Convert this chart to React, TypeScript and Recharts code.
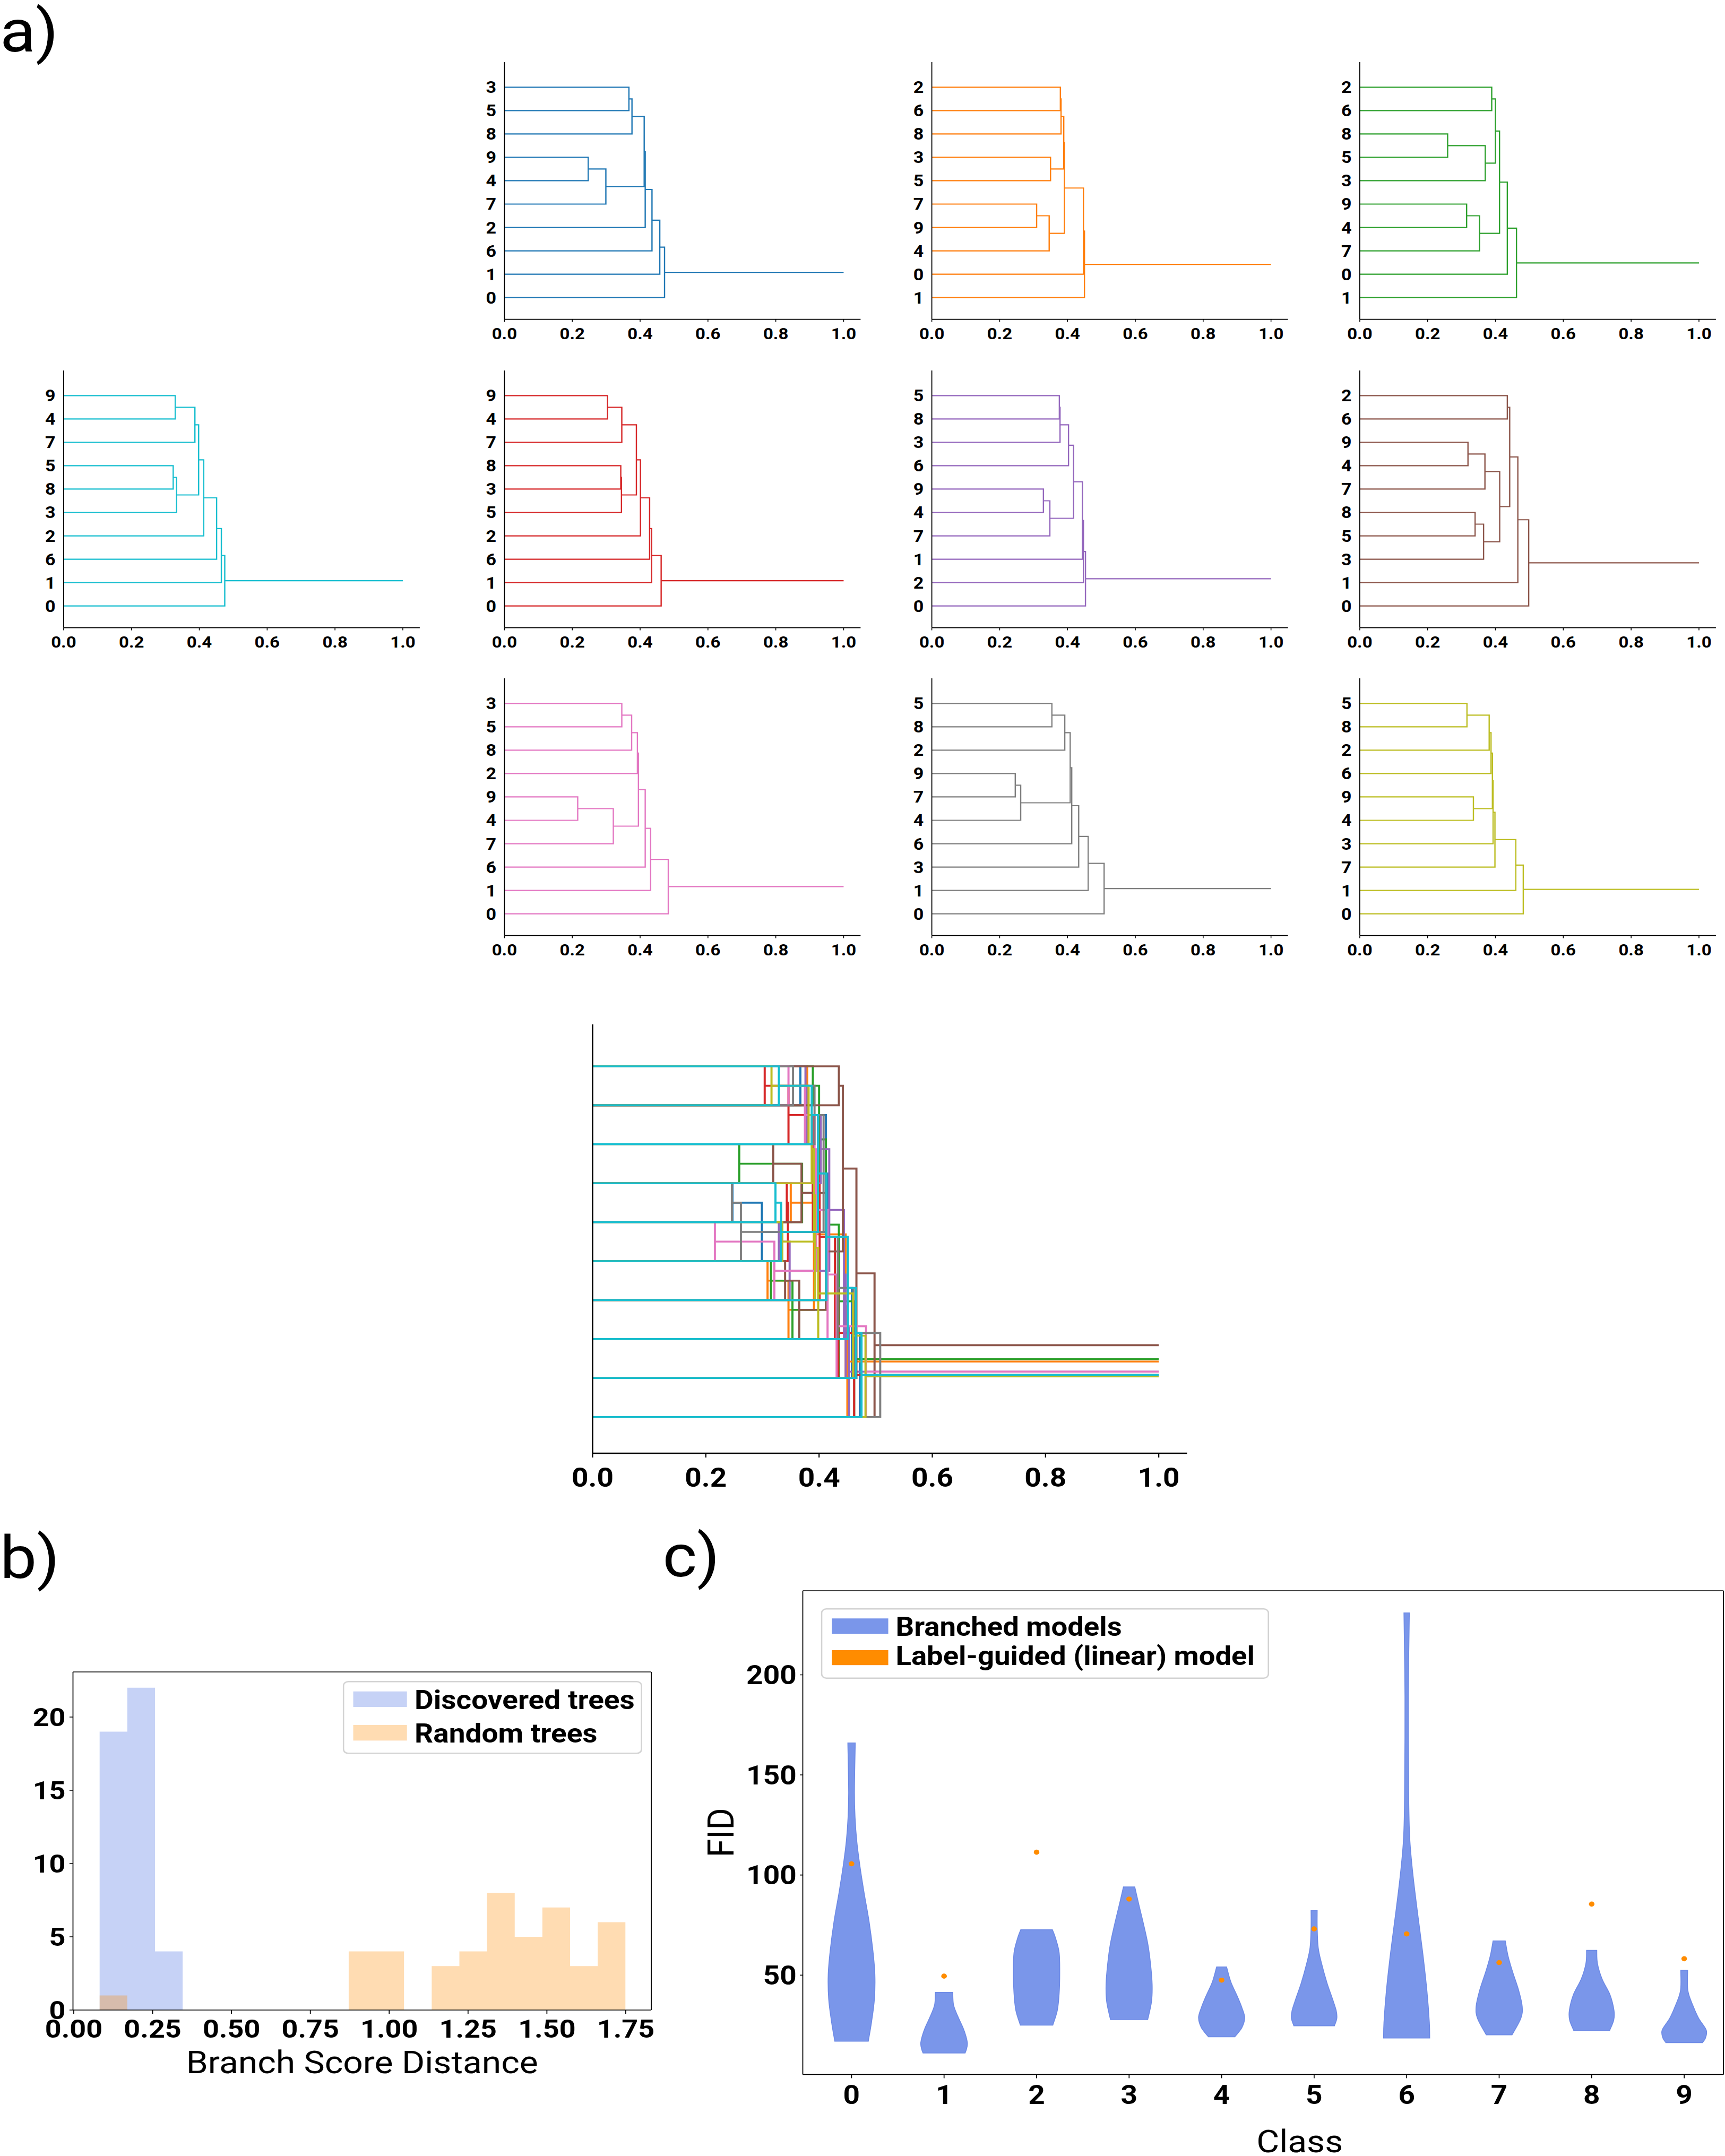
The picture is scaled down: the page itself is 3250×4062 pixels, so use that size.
import React from 'react';
import {
  ComposedChart, Line, Area, Scatter, XAxis, YAxis, ReferenceLine, Legend, Label,
} from 'recharts';

// the reference picture is stretched horizontally, so draw narrower and scale x
const SX = 1.1;
const PAGE_W = 3250 / SX;
const PAGE_H = 4062;

// ---------- a) dendrograms: leaf labels (top to bottom) and merges [a, b, height]
// ids 0-9 are leaf slots, 10+ are merged clusters (scipy style)
const blueLeaves = ['3', '5', '8', '9', '4', '7', '2', '6', '1', '0'];
const blueMerges = [[0, 1, 0.367], [10, 2, 0.376], [3, 4, 0.247], [12, 5, 0.299], [11, 13, 0.412], [14, 6, 0.415], [15, 7, 0.435], [16, 8, 0.458], [17, 9, 0.472]];

const orangeLeaves = ['2', '6', '8', '3', '5', '7', '9', '4', '0', '1'];
const orangeMerges = [[0, 1, 0.379], [10, 2, 0.381], [3, 4, 0.350], [11, 12, 0.389], [5, 6, 0.309], [14, 7, 0.346], [13, 15, 0.391], [16, 8, 0.447], [17, 9, 0.450]];

const greenLeaves = ['2', '6', '8', '5', '3', '9', '4', '7', '0', '1'];
const greenMerges = [[0, 1, 0.389], [2, 3, 0.259], [11, 4, 0.370], [10, 12, 0.400], [5, 6, 0.315], [14, 7, 0.353], [13, 15, 0.412], [16, 8, 0.435], [17, 9, 0.462]];

const redLeaves = ['9', '4', '7', '8', '3', '5', '2', '6', '1', '0'];
const redMerges = [[0, 1, 0.304], [10, 2, 0.346], [3, 4, 0.343], [12, 5, 0.345], [11, 13, 0.389], [14, 6, 0.401], [15, 7, 0.428], [16, 8, 0.434], [17, 9, 0.462]];

const purpleLeaves = ['5', '8', '3', '6', '9', '4', '7', '1', '2', '0'];
const purpleMerges = [[0, 1, 0.376], [10, 2, 0.378], [11, 3, 0.403], [4, 5, 0.329], [13, 6, 0.348], [12, 14, 0.418], [15, 7, 0.444], [16, 8, 0.447], [17, 9, 0.453]];

const brownLeaves = ['2', '6', '9', '4', '7', '8', '5', '3', '1', '0'];
const brownMerges = [[0, 1, 0.435], [2, 3, 0.319], [11, 4, 0.369], [5, 6, 0.340], [13, 7, 0.365], [12, 14, 0.4125], [10, 15, 0.442], [16, 8, 0.466], [17, 9, 0.498]];

const pinkLeaves = ['3', '5', '8', '2', '9', '4', '7', '6', '1', '0'];
const pinkMerges = [[0, 1, 0.346], [10, 2, 0.375], [11, 3, 0.392], [4, 5, 0.216], [13, 6, 0.321], [12, 14, 0.395], [15, 7, 0.415], [16, 8, 0.431], [17, 9, 0.483]];

const grayLeaves = ['5', '8', '2', '9', '7', '4', '6', '3', '1', '0'];
const grayMerges = [[0, 1, 0.354], [10, 2, 0.392], [3, 4, 0.246], [12, 5, 0.262], [11, 13, 0.408], [14, 6, 0.4125], [15, 7, 0.433], [16, 8, 0.461], [17, 9, 0.508]];

const oliveLeaves = ['5', '8', '2', '6', '9', '4', '3', '7', '1', '0'];
const oliveMerges = [[0, 1, 0.316], [10, 2, 0.3815], [11, 3, 0.387], [4, 5, 0.335], [12, 13, 0.391], [14, 6, 0.393], [15, 7, 0.3985], [16, 8, 0.460], [17, 9, 0.482]];

const cyanLeaves = ['9', '4', '7', '5', '8', '3', '2', '6', '1', '0'];
const cyanMerges = [[0, 1, 0.329], [10, 2, 0.387], [3, 4, 0.323], [12, 5, 0.333], [11, 13, 0.398], [14, 6, 0.413], [15, 7, 0.451], [16, 8, 0.465], [17, 9, 0.475]];

const trees = [
  { leaves: blueLeaves, merges: blueMerges, color: '#1f77b4' },
  { leaves: orangeLeaves, merges: orangeMerges, color: '#ff7f0e' },
  { leaves: greenLeaves, merges: greenMerges, color: '#2ca02c' },
  { leaves: redLeaves, merges: redMerges, color: '#d62728' },
  { leaves: purpleLeaves, merges: purpleMerges, color: '#9467bd' },
  { leaves: brownLeaves, merges: brownMerges, color: '#8c564b' },
  { leaves: pinkLeaves, merges: pinkMerges, color: '#e377c2' },
  { leaves: grayLeaves, merges: grayMerges, color: '#7f7f7f' },
  { leaves: oliveLeaves, merges: oliveMerges, color: '#bcbd22' },
  { leaves: cyanLeaves, merges: cyanMerges, color: '#17becf' },
];

const distTicks = [0, 0.2, 0.4, 0.6, 0.8, 1.0];
const leafSlots = [0, 1, 2, 3, 4, 5, 6, 7, 8, 9];

// ---------- b) histogram of branch score distances
const binEdges = [0.0820, 0.1697, 0.2575, 0.3452, 0.4329, 0.5207, 0.6084, 0.6961, 0.7838, 0.8716,
  0.9593, 1.0470, 1.1348, 1.2225, 1.3102, 1.3980, 1.4857, 1.5734, 1.6611, 1.7489];
const discoveredCounts = [19, 22, 4, 0, 0, 0, 0, 0, 0, 0, 0, 0, 0, 0, 0, 0, 0, 0, 0];
const randomCounts = [1, 0, 0, 0, 0, 0, 0, 0, 0, 4, 4, 0, 3, 4, 8, 5, 7, 3, 6];
const bsdTicks = [0, 0.25, 0.5, 0.75, 1.0, 1.25, 1.5, 1.75];
const countTicks = [0, 5, 10, 15, 20];

// ---------- c) FID violins: [FID, half width in class units], top to bottom
const fidClasses = [0, 1, 2, 3, 4, 5, 6, 7, 8, 9];
const violin0 = [[166, 0.040], [141.5, 0.031], [128.6, 0.038], [117.1, 0.056], [105.6, 0.087], [91.3, 0.135], [76.9, 0.189], [62.5, 0.230], [50.3, 0.252], [38.1, 0.247], [26.6, 0.216], [17.0, 0.181]];
const violin1 = [[41.4, 0.094], [35.2, 0.102], [29.5, 0.148], [23.8, 0.204], [19.4, 0.237], [15.8, 0.252], [13.0, 0.242], [11.1, 0.227]];
const violin2 = [[72.7, 0.171], [68.3, 0.206], [61.1, 0.244], [51.0, 0.250], [41.0, 0.244], [32.4, 0.224], [25.0, 0.175]];
const violin3 = [[94.1, 0.061], [85.5, 0.104], [75.5, 0.156], [65.4, 0.203], [55.4, 0.232], [45.3, 0.249], [36.7, 0.242], [27.8, 0.201]];
const violin4 = [[54.1, 0.054], [46.7, 0.099], [39.6, 0.168], [33.8, 0.219], [28.8, 0.249], [23.8, 0.219], [19.2, 0.142]];
const violin5 = [[82.2, 0.033], [73.5, 0.033], [63.7, 0.044], [55.9, 0.080], [46.1, 0.139], [38.2, 0.198], [32.4, 0.238], [28.4, 0.245], [24.7, 0.219]];
const violin6 = [[230.9, 0.029], [189.2, 0.018], [140.2, 0.022], [118.6, 0.033], [101, 0.066], [81.4, 0.117], [61.8, 0.172], [42.2, 0.219], [26.5, 0.245], [18.6, 0.249]];
const violin7 = [[67.1, 0.066], [59.8, 0.095], [52.0, 0.143], [42.2, 0.212], [34.3, 0.249], [28.4, 0.234], [20.2, 0.139]];
const violin8 = [[62.4, 0.055], [55.9, 0.062], [48.0, 0.113], [40.2, 0.198], [32.4, 0.241], [27.5, 0.238], [22.4, 0.194]];
const violin9 = [[52.4, 0.037], [42.2, 0.040], [34.3, 0.099], [28.4, 0.157], [22.6, 0.238], [18.6, 0.230], [16.3, 0.198]];
const violins = [violin0, violin1, violin2, violin3, violin4, violin5, violin6, violin7, violin8, violin9];
const linearFid = [105.6, 49.5, 111.4, 88.0, 47.5, 73.1, 70.6, 56.3, 85.5, 58.2];
const fidTicks = [50, 100, 150, 200];

// ---------- helpers
function buildLinks(leaves, merges) {
  const n = leaves.length;
  const nodes = leaves.map((_, i) => ({ x: 0, y: n - 1 - i }));
  const links = [];
  merges.forEach(([a, b, h]) => {
    const A = nodes[a];
    const B = nodes[b];
    links.push([{ x: A.x, y: A.y }, { x: h, y: A.y }, { x: h, y: B.y }, { x: B.x, y: B.y }]);
    nodes.push({ x: h, y: (A.y + B.y) / 2 });
  });
  const root = nodes[nodes.length - 1];
  links.push([{ x: root.x, y: root.y }, { x: 1, y: root.y }]);
  return links;
}

const black = '#000';
const boldTick = (size) => ({ fill: black, fontSize: size, fontWeight: 700 });

// small panels (positions in reference pixels: x of 0.0, top of the axis)
const smallPanels = [
  { tree: 0, x0: 950, top: 117 },
  { tree: 1, x0: 1756, top: 117 },
  { tree: 2, x0: 2562, top: 117 },
  { tree: 9, x0: 119.6, top: 698 },
  { tree: 3, x0: 950, top: 698 },
  { tree: 4, x0: 1756, top: 698 },
  { tree: 5, x0: 2562, top: 698 },
  { tree: 6, x0: 950, top: 1278 },
  { tree: 7, x0: 1756, top: 1278 },
  { tree: 8, x0: 2562, top: 1278 },
];

const SMALL = { plotW: 671 / SX, plotH: 484.6, yW: 70, xH: 60, mTop: 10, mRight: 10 };

const SmallTree = ({ tree, x0, top }) => {
  const links = buildLinks(tree.leaves, tree.merges);
  return (
    <div style={ { position: 'absolute', left: x0 / SX - SMALL.yW, top: top - SMALL.mTop } }>
      <ComposedChart
        width={ SMALL.yW + SMALL.plotW + SMALL.mRight }
        height={ SMALL.mTop + SMALL.plotH + SMALL.xH }
        margin={ { top: SMALL.mTop, right: SMALL.mRight, bottom: 0, left: 0 } }
      >
        <XAxis
          type="number" dataKey="x" domain={ [0, 1.05] } ticks={ distTicks } allowDataOverflow
          tickFormatter={ (v) => v.toFixed(1) } height={ SMALL.xH } interval={ 0 }
          tickSize={ 5 } tickMargin={ 11 } tick={ boldTick(30) }
          axisLine={ { stroke: black, strokeWidth: 1.6 } } tickLine={ { stroke: black, strokeWidth: 1.4 } }
        />
        <YAxis
          type="number" dataKey="y" domain={ [-0.93, 10.075] } ticks={ leafSlots } allowDataOverflow
          tickFormatter={ (v) => tree.leaves[9 - v] } width={ SMALL.yW } interval={ 0 }
          tickLine={ false } tickSize={ 12 } tickMargin={ 2 } tick={ boldTick(31) }
          axisLine={ { stroke: black, strokeWidth: 1.6 } }
        />
        { links.map((pts, i) => (
          <Line
            key={ i } data={ pts } dataKey="y" stroke={ tree.color } strokeWidth={ 2.2 }
            dot={ false } activeDot={ false } isAnimationActive={ false } strokeLinejoin="miter"
          />
        )) }
      </ComposedChart>
    </div>
  );
};

const BIG = { left: 1116.7 / SX, top: 1930, plotW: 1120 / SX, plotH: 808, yW: 40, xH: 90, mTop: 10, mRight: 10 };

const OverlayTrees = () => (
  <div style={ { position: 'absolute', left: BIG.left - BIG.yW, top: BIG.top - BIG.mTop } }>
    <ComposedChart
      width={ BIG.yW + BIG.plotW + BIG.mRight }
      height={ BIG.mTop + BIG.plotH + BIG.xH }
      margin={ { top: BIG.mTop, right: BIG.mRight, bottom: 0, left: 0 } }
    >
      <XAxis
        type="number" dataKey="x" domain={ [0, 1.05] } ticks={ distTicks } allowDataOverflow
        tickFormatter={ (v) => v.toFixed(1) } height={ BIG.xH } interval={ 0 }
        tickSize={ 8 } tickMargin={ 20 } tick={ boldTick(50) }
        axisLine={ { stroke: black, strokeWidth: 2.4 } } tickLine={ { stroke: black, strokeWidth: 2 } }
      />
      <YAxis
        type="number" dataKey="y" domain={ [-0.93, 10.075] } allowDataOverflow
        width={ BIG.yW } tick={ false } tickLine={ false }
        axisLine={ { stroke: black, strokeWidth: 2.4 } }
      />
      { trees.flatMap((tree, t) => buildLinks(tree.leaves, tree.merges).map((pts, i) => (
        <Line
          key={ `${t}-${i}` } data={ pts } dataKey="y" stroke={ tree.color } strokeWidth={ 3.6 }
          dot={ false } activeDot={ false } isAnimationActive={ false }
        />
      ))) }
    </ComposedChart>
  </div>
);

// ---------- b)
const histData = binEdges.map((x, i) => ({
  x,
  discovered: discoveredCounts[Math.min(i, discoveredCounts.length - 1)],
  random: randomCounts[Math.min(i, randomCounts.length - 1)],
}));

const HB = { left: 138 / SX, top: 3149.5, plotW: (1227.6 - 138) / SX, plotH: 637, yW: 100, xH: 140, mTop: 10, mRight: 10 };
const bDomainX = [-0.0025, 1.831];
const bDomainY = [0, 23.08];

const LegendBox = ({ w, h, items, patchX, patchW, textX, fontSize }) => (
  <svg width={ w } height={ h } style={ { display: 'block' } }>
    <rect x={ 1.25 } y={ 1.25 } width={ w - 2.5 } height={ h - 2.5 } rx={ 8 } fill="rgba(255,255,255,0.8)" stroke="#d3d3d3" strokeWidth={ 2.5 } />
    { items.map((it) => (
      <g key={ it.label }>
        <rect x={ patchX } y={ it.patchY } width={ patchW } height={ it.patchH } fill={ it.color } />
        <text x={ textX } y={ it.baseline } fontSize={ fontSize } fontWeight={ 700 } fill={ black }>{ it.label }</text>
      </g>
    )) }
  </svg>
);

const HistogramPanel = () => (
  <div style={ { position: 'absolute', left: HB.left - HB.yW, top: HB.top - HB.mTop } }>
    <ComposedChart
      data={ histData }
      width={ HB.yW + HB.plotW + HB.mRight }
      height={ HB.mTop + HB.plotH + HB.xH }
      margin={ { top: HB.mTop, right: HB.mRight, bottom: 0, left: 0 } }
    >
      <XAxis
        type="number" dataKey="x" domain={ bDomainX } ticks={ bsdTicks } allowDataOverflow
        tickFormatter={ (v) => v.toFixed(2) } height={ HB.xH } interval={ 0 }
        tickSize={ 7 } tickMargin={ 10.5 } tick={ boldTick(49) }
        axisLine={ { stroke: black, strokeWidth: 1.6 } } tickLine={ { stroke: black, strokeWidth: 1.6 } }
      >
        <Label
          content={ (p) => {
            const vb = p.viewBox || { x: 0, y: 0, width: 0, height: 0 };
            return (
              <text x={ vb.x + vb.width / 2 } y={ vb.y + 119.3 } textAnchor="middle" fontSize={ 60 } fill={ black }>
                Branch Score Distance
              </text>
            );
          } }
        />
      </XAxis>
      <YAxis
        type="number" domain={ bDomainY } ticks={ countTicks } allowDataOverflow interval={ 0 }
        width={ HB.yW } tickSize={ 6 } tickMargin={ 6.7 } tick={ boldTick(49) }
        axisLine={ { stroke: black, strokeWidth: 1.6 } } tickLine={ { stroke: black, strokeWidth: 1.6 } }
      />
      <ReferenceLine y={ bDomainY[1] } stroke={ black } strokeWidth={ 1.6 } />
      <ReferenceLine x={ bDomainX[1] } stroke={ black } strokeWidth={ 1.6 } />
      <Area
        type="stepAfter" dataKey="discovered" fill="#4169e1" fillOpacity={ 0.3 } stroke="none"
        isAnimationActive={ false } activeDot={ false }
      />
      <Area
        type="stepAfter" dataKey="random" fill="#ff8c00" fillOpacity={ 0.3 } stroke="none"
        isAnimationActive={ false } activeDot={ false }
      />
      <Legend
        verticalAlign="middle" align="center" layout="horizontal"
        wrapperStyle={ { left: 645.6 / SX - (HB.left - HB.yW), top: 3167 - (HB.top - HB.mTop), width: 'auto' } }
        content={ () => (
          <LegendBox
            w={ (1210 - 645.6) / SX } h={ 137.6 } patchX={ 18 } patchW={ 92 } textX={ 123 } fontSize={ 50 }
            items={ [
              { label: 'Discovered trees', color: 'rgba(65,105,225,0.3)', patchY: 19.7, patchH: 29.3, baseline: 53.4 },
              { label: 'Random trees', color: 'rgba(255,140,0,0.3)', patchY: 83, patchH: 29.3, baseline: 116.5 },
            ] }
          />
        ) }
      />
    </ComposedChart>
  </div>
);

// ---------- c)
const catmull = (pts) => {
  let d = '';
  for (let i = 0; i < pts.length - 1; i += 1) {
    const p0 = pts[i - 1] || pts[i];
    const p1 = pts[i];
    const p2 = pts[i + 1];
    const p3 = pts[i + 2] || p2;
    const c1x = p1.x + (p2.x - p0.x) / 6;
    const c1y = p1.y + (p2.y - p0.y) / 6;
    const c2x = p2.x - (p3.x - p1.x) / 6;
    const c2y = p2.y - (p3.y - p1.y) / 6;
    d += ` C${c1x},${c1y} ${c2x},${c2y} ${p2.x},${p2.y}`;
  }
  return d;
};

const violinPath = (props) => {
  const pts = props.points || [];
  const n = pts.length / 2;
  const left = pts.slice(0, n);
  const right = pts.slice(n);
  if (!n) return <g />;
  const d = `M${left[0].x},${left[0].y}${catmull(left)} L${right[0].x},${right[0].y}${catmull(right)} Z`;
  return <path d={ d } fill="#7a96ea" stroke="#6d8ae6" strokeWidth={ 1.5 } />;
};

const violinOutline = (c, v) => [
  ...v.map(([y, hw]) => ({ x: c - hw, y })),
  ...[...v].reverse().map(([y, hw]) => ({ x: c + hw, y })),
];

const linearPoints = fidClasses.map((c, i) => ({ x: c, y: linearFid[i] }));

const VC = { left: 1512.8 / SX, top: 2997, plotW: (3247.5 - 1512.8) / SX, plotH: 911.4, yW: 200, xH: 160, mTop: 10, mRight: 2 };
const cDomainX = [-0.527, 9.425];
const cDomainY = [0.4, 242];

const ViolinPanel = () => (
  <div style={ { position: 'absolute', left: VC.left - VC.yW, top: VC.top - VC.mTop } }>
    <ComposedChart
      width={ VC.yW + VC.plotW + VC.mRight }
      height={ VC.mTop + VC.plotH + VC.xH }
      margin={ { top: VC.mTop, right: VC.mRight, bottom: 0, left: 0 } }
    >
      <XAxis
        type="number" dataKey="x" domain={ cDomainX } ticks={ fidClasses } allowDataOverflow interval={ 0 }
        height={ VC.xH } tickSize={ 7 } tickMargin={ 13.6 } tick={ boldTick(50) }
        axisLine={ { stroke: black, strokeWidth: 1.6 } } tickLine={ { stroke: black, strokeWidth: 1.6 } }
      >
        <Label
          content={ (p) => {
            const vb = p.viewBox || { x: 0, y: 0, width: 0, height: 0 };
            return (
              <text x={ vb.x + (2449 - 1512.8) / SX } y={ vb.y + 146.6 } textAnchor="middle" fontSize={ 60 } fill={ black }>
                Class
              </text>
            );
          } }
        />
      </XAxis>
      <YAxis
        type="number" dataKey="y" domain={ cDomainY } ticks={ fidTicks } allowDataOverflow interval={ 0 }
        width={ VC.yW } tickSize={ 5 } tickMargin={ 5.7 } tick={ boldTick(50) }
        axisLine={ { stroke: black, strokeWidth: 1.6 } } tickLine={ { stroke: black, strokeWidth: 1.6 } }
      >
        <Label
          content={ (p) => {
            const vb = p.viewBox || { x: 0, y: 0, width: 0, height: 0 };
            const x = vb.x + (1358 / SX - (VC.left - VC.yW));
            const y = vb.y + vb.height / 2;
            return (
              <text x={ x } y={ y } dy="0.355em" transform={ `rotate(-90 ${x} ${y})` } textAnchor="middle" fontSize={ 63 } fill={ black }>
                FID
              </text>
            );
          } }
        />
      </YAxis>
      <ReferenceLine y={ cDomainY[1] } stroke={ black } strokeWidth={ 1.6 } />
      <ReferenceLine x={ cDomainX[1] } stroke={ black } strokeWidth={ 1.6 } />
      { fidClasses.map((c, i) => (
        <Scatter
          key={ c } data={ violinOutline(c, violins[i]) } line={ violinPath } shape={ () => <g /> }
          isAnimationActive={ false }
        />
      )) }
      <Scatter
        data={ linearPoints } isAnimationActive={ false }
        shape={ (p) => <circle cx={ p.cx } cy={ p.cy } r={ 4.8 } fill="#ff8c00" /> }
      />
      <Legend
        verticalAlign="middle" align="center" layout="horizontal"
        wrapperStyle={ { left: 1547 / SX - (VC.left - VC.yW), top: 3029.5 - (VC.top - VC.mTop), width: 'auto' } }
        content={ () => (
          <LegendBox
            w={ (2391.6 - 1547) / SX } h={ 133 } patchX={ 18.8 } patchW={ 96.6 } textX={ 128.1 } fontSize={ 49.5 }
            items={ [
              { label: 'Branched models', color: '#7a96ea', patchY: 19.2, patchH: 28.9, baseline: 52.5 },
              { label: 'Label-guided (linear) model', color: '#ff8c00', patchY: 79, patchH: 28.2, baseline: 107.5 },
            ] }
          />
        ) }
      />
    </ComposedChart>
  </div>
);

const PanelLetters = () => (
  <svg width={ PAGE_W } height={ PAGE_H } style={ { position: 'absolute', left: 0, top: 0 } }>
    <text x={ 0 } y={ 97 } fontSize={ 112 } fill={ black }>a)</text>
    <text x={ 0 } y={ 2973 } fontSize={ 112 } fill={ black }>b)</text>
    <text x={ 1135 } y={ 2970 } fontSize={ 112 } fill={ black }>c)</text>
  </svg>
);

const App = () => (
  <div style={ { position: 'absolute', left: 0, top: 0, width: 3250, height: PAGE_H, overflow: 'hidden', background: '#fff' } }>
    <div
      style={ {
        position: 'relative', width: PAGE_W, height: PAGE_H, transform: `scaleX(${SX})`,
        transformOrigin: '0 0', fontFamily: 'Roboto, sans-serif',
      } }
    >
      <PanelLetters />
      { smallPanels.map((p) => <SmallTree key={ p.tree } tree={ trees[p.tree] } x0={ p.x0 } top={ p.top } />) }
      <OverlayTrees />
      <HistogramPanel />
      <ViolinPanel />
    </div>
  </div>
);

export default App;
